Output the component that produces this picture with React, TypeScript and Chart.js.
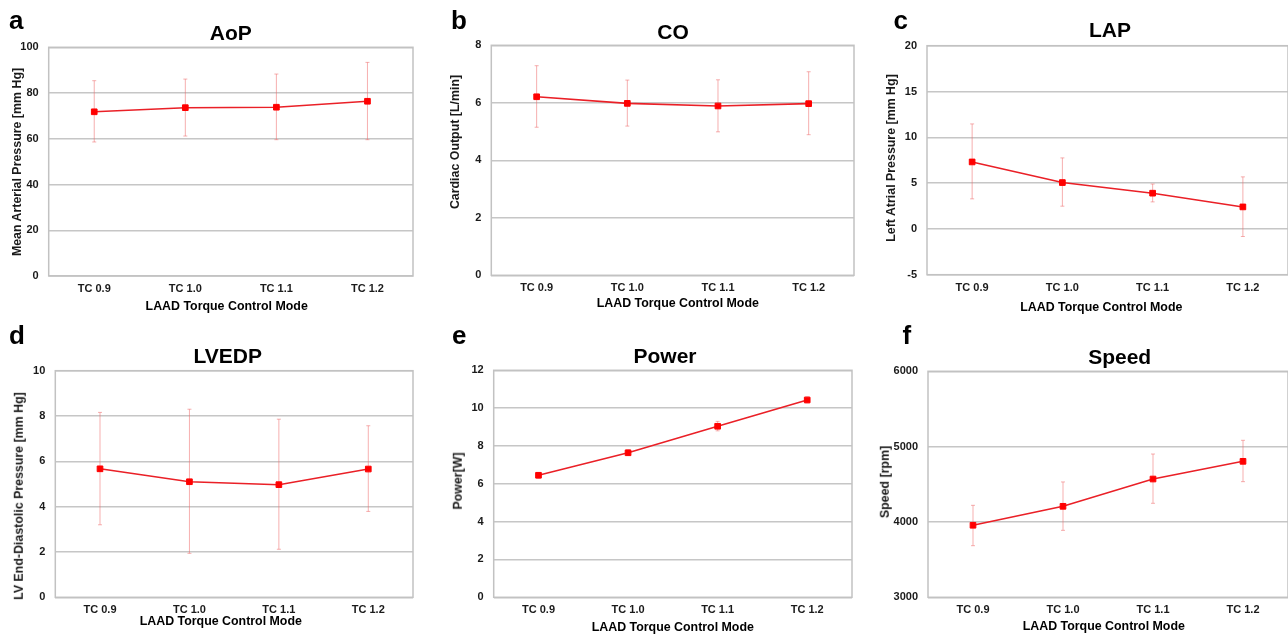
import React, { useEffect, useRef } from "react";
import { Chart, registerables } from "chart.js";

Chart.register(...registerables);

const categories = ["TC 0.9", "TC 1.0", "TC 1.1", "TC 1.2"];
const xAxisTitle = "LAAD Torque Control Mode";

const aopMean = [71.8, 73.6, 73.8, 76.4];
const aopUpper = [85.4, 86.1, 88.3, 93.4];
const aopLower = [58.6, 61.2, 59.6, 59.6];

const coMean = [6.21, 5.98, 5.89, 5.97];
const coUpper = [7.29, 6.79, 6.8, 7.08];
const coLower = [5.15, 5.19, 4.99, 4.89];

const lapMean = [7.31, 5.06, 3.9, 2.4];
const lapUpper = [11.46, 7.75, 4.9, 5.68];
const lapLower = [3.28, 2.48, 2.95, -0.83];

const lvedpMean = [5.67, 5.1, 4.97, 5.66];
const lvedpUpper = [8.16, 8.3, 7.86, 7.57];
const lvedpLower = [3.2, 1.94, 2.12, 3.79];

const powerMean = [6.45, 7.64, 9.04, 10.43];
const powerUpper = [6.6, 7.8, 9.3, 10.6];
const powerLower = [6.3, 7.5, 8.8, 10.28];

const speedMean = [3956, 4208, 4570, 4805];
const speedUpper = [4221, 4531, 4902, 5084];
const speedLower = [3685, 3889, 4248, 4535];

const yRangeAoP = [0, 100, 20];
const yRangeCO = [0, 8, 2];
const yRangeLAP = [-5, 20, 5];
const yRangeLVEDP = [0, 10, 2];
const yRangePower = [0, 12, 2];
const yRangeSpeed = [3000, 6000, 1000];

const FONT = "'Liberation Sans', Arial, Helvetica, sans-serif";
const TEXT = "#1a1a1a";

type PanelDef = {
  letter: string;
  title: string;
  yTitle: string;
  mean: number[];
  upper: number[];
  lower: number[];
  range: number[];
  plot: { l: number; t: number; r: number; b: number };
  letterPos: { x: number; base: number };
  titlePos: { cx: number; cy: number };
  yTitlePos: { cx: number; cy: number };
  xTitlePos: { cx: number; cy: number };
};

const panels: PanelDef[] = [
  {
    letter: "a", title: "AoP", yTitle: "Mean Arterial Pressure [mm Hg]",
    mean: aopMean, upper: aopUpper, lower: aopLower, range: yRangeAoP,
    plot: { l: 48.7, t: 47.3, r: 414, b: 276 },
    letterPos: { x: 9, base: 29.3 }, titlePos: { cx: 230.8, cy: 32.5 },
    yTitlePos: { cx: 17.3, cy: 161.7 }, xTitlePos: { cx: 226.7, cy: 305.7 },
  },
  {
    letter: "b", title: "CO", yTitle: "Cardiac Output [L/min]",
    mean: coMean, upper: coUpper, lower: coLower, range: yRangeCO,
    plot: { l: 491.3, t: 45.3, r: 854.7, b: 275.3 },
    letterPos: { x: 451, base: 29.3 }, titlePos: { cx: 673, cy: 30.8 },
    yTitlePos: { cx: 455, cy: 141.7 }, xTitlePos: { cx: 677.8, cy: 302.7 },
  },
  {
    letter: "c", title: "LAP", yTitle: "Left Atrial Pressure [mm Hg]",
    mean: lapMean, upper: lapUpper, lower: lapLower, range: yRangeLAP,
    plot: { l: 927, t: 45.7, r: 1289, b: 274.7 },
    letterPos: { x: 893.5, base: 29.3 }, titlePos: { cx: 1110, cy: 29.7 },
    yTitlePos: { cx: 891.3, cy: 158 }, xTitlePos: { cx: 1101.3, cy: 307.3 },
  },
  {
    letter: "d", title: "LVEDP", yTitle: "LV End-Diastolic Pressure [mm Hg]",
    mean: lvedpMean, upper: lvedpUpper, lower: lvedpLower, range: yRangeLVEDP,
    plot: { l: 55.3, t: 370.7, r: 413.3, b: 597.3 },
    letterPos: { x: 9, base: 344 }, titlePos: { cx: 227.7, cy: 354.8 },
    yTitlePos: { cx: 19, cy: 496.3 }, xTitlePos: { cx: 220.8, cy: 621.3 },
  },
  {
    letter: "e", title: "Power", yTitle: "Power[W]",
    mean: powerMean, upper: powerUpper, lower: powerLower, range: yRangePower,
    plot: { l: 493.7, t: 370.3, r: 852.3, b: 597.3 },
    letterPos: { x: 452, base: 344 }, titlePos: { cx: 665, cy: 355.2 },
    yTitlePos: { cx: 457.7, cy: 480.5 }, xTitlePos: { cx: 672.8, cy: 627.3 },
  },
  {
    letter: "f", title: "Speed", yTitle: "Speed [rpm]",
    mean: speedMean, upper: speedUpper, lower: speedLower, range: yRangeSpeed,
    plot: { l: 928, t: 371.3, r: 1289, b: 597.3 },
    letterPos: { x: 902.5, base: 344 }, titlePos: { cx: 1119.7, cy: 356 },
    yTitlePos: { cx: 884.7, cy: 482 }, xTitlePos: { cx: 1103.8, cy: 626 },
  },
];

const framePlugin = {
  id: "frame",
  beforeDatasetsDraw(chart: any) {
    const { ctx, chartArea } = chart;
    ctx.save();
    ctx.strokeStyle = "#c2c2c2";
    ctx.lineWidth = 1.5;
    ctx.strokeRect(chartArea.left, chartArea.top, chartArea.right - chartArea.left, chartArea.bottom - chartArea.top);
    ctx.restore();
  },
};

const errorBarPlugin = {
  id: "errorBars",
  beforeDatasetsDraw(chart: any, _args: any, opts: any) {
    const { ctx, scales } = chart;
    const up: number[] = opts.upper || [];
    const lo: number[] = opts.lower || [];
    ctx.save();
    ctx.strokeStyle = "rgba(238, 110, 110, 0.55)";
    ctx.lineWidth = 1;
    for (let i = 0; i < up.length; i++) {
      const x = scales.x.getPixelForValue(i);
      const y1 = scales.y.getPixelForValue(up[i]);
      const y2 = scales.y.getPixelForValue(lo[i]);
      ctx.beginPath();
      ctx.moveTo(x, y1);
      ctx.lineTo(x, y2);
      ctx.moveTo(x - 2, y1);
      ctx.lineTo(x + 2, y1);
      ctx.moveTo(x - 2, y2);
      ctx.lineTo(x + 2, y2);
      ctx.stroke();
    }
    ctx.restore();
  },
};

function PanelChart({ p }: { p: PanelDef }) {
  const ref = useRef<HTMLCanvasElement>(null);
  const cl = Math.round(p.plot.l) - 46;
  const ct = Math.round(p.plot.t) - 20;
  const W = Math.ceil(p.plot.r) + 4 - cl;
  const H = Math.ceil(p.plot.b) + 26 - ct;
  const yW = p.plot.l - cl;
  const padTop = p.plot.t - ct;
  const padRight = cl + W - p.plot.r;
  const xH = H - (p.plot.b - ct);

  useEffect(() => {
    const canvas = ref.current!;
    const chart = new Chart(canvas, {
      type: "line",
      data: {
        labels: categories,
        datasets: [
          {
            data: p.mean,
            borderColor: "#ea2027",
            borderWidth: 1.6,
            backgroundColor: "#ff0000",
            pointStyle: "rect",
            pointRadius: 4,
            pointBorderWidth: 1,
            pointBorderColor: "#ff0000",
            pointBackgroundColor: "#ff0000",
            tension: 0,
            fill: false,
          },
        ],
      },
      options: {
        animation: false,
        responsive: false,
        devicePixelRatio: 1,
        layout: { padding: { left: 0, top: padTop, right: padRight, bottom: 0 } },
        plugins: {
          legend: { display: false },
          tooltip: { enabled: false },
          title: { display: false },
          errorBars: { upper: p.upper, lower: p.lower },
        } as any,
        scales: {
          x: {
            type: "category",
            offset: true,
            grid: { display: false, drawTicks: false },
            border: { display: false },
            ticks: {
              color: TEXT,
              font: { family: FONT, size: 11, weight: "bold" },
              padding: 6.5,
              maxRotation: 0,
              autoSkip: false,
            },
            afterFit(scale: any) {
              scale.height = xH;
            },
          },
          y: {
            type: "linear",
            min: p.range[0],
            max: p.range[1],
            grid: { color: "#c6c6c6", lineWidth: 1.5, drawTicks: false },
            border: { display: false },
            ticks: {
              stepSize: p.range[2],
              color: TEXT,
              font: { family: FONT, size: 11, weight: "bold" },
              padding: 10,
              callback: (v: any) => String(v),
            },
            afterFit(scale: any) {
              scale.width = yW;
            },
          },
        },
      },
      plugins: [framePlugin, errorBarPlugin],
    });
    return () => chart.destroy();
  }, []);

  return (
    <canvas
      ref={ref}
      width={W}
      height={H}
      style={{ position: "absolute", left: cl, top: ct, width: W, height: H }}
    />
  );
}

function HText({ text, cx, cy, size }: { text: string; cx: number; cy: number; size: number }) {
  return (
    <div
      style={{
        position: "absolute",
        left: cx,
        top: cy - 0.49 * size,
        transform: "translateX(-50%)",
        font: `bold ${size}px ${FONT}`,
        lineHeight: `${size}px`,
        whiteSpace: "nowrap",
        color: "#000",
      }}
    >
      {text}
    </div>
  );
}

function VText({ text, cx, cy, size }: { text: string; cx: number; cy: number; size: number }) {
  return (
    <div
      style={{
        position: "absolute",
        left: cx,
        top: cy,
        transform: "translate(-50%, -50%) rotate(-90deg)",
        font: `bold ${size}px ${FONT}`,
        lineHeight: `${size}px`,
        whiteSpace: "nowrap",
        color: TEXT,
      }}
    >
      {text}
    </div>
  );
}

export default function App() {
  return (
    <div
      style={{
        position: "absolute",
        left: 0,
        top: 0,
        width: 1288,
        height: 636,
        overflow: "hidden",
        background: "#fff",
      }}
    >
      {panels.map((p) => (
        <React.Fragment key={p.letter}>
          <PanelChart p={p} />
          <div
            style={{
              position: "absolute",
              left: p.letterPos.x,
              top: p.letterPos.base - 0.8465 * 26,
              font: `bold 26px ${FONT}`,
              lineHeight: "26px",
              color: "#000",
            }}
          >
            {p.letter}
          </div>
          <HText text={p.title} cx={p.titlePos.cx} cy={p.titlePos.cy} size={21} />
          <VText text={p.yTitle} cx={p.yTitlePos.cx} cy={p.yTitlePos.cy} size={12.4} />
          <HText text={xAxisTitle} cx={p.xTitlePos.cx} cy={p.xTitlePos.cy} size={12.4} />
        </React.Fragment>
      ))}
    </div>
  );
}
